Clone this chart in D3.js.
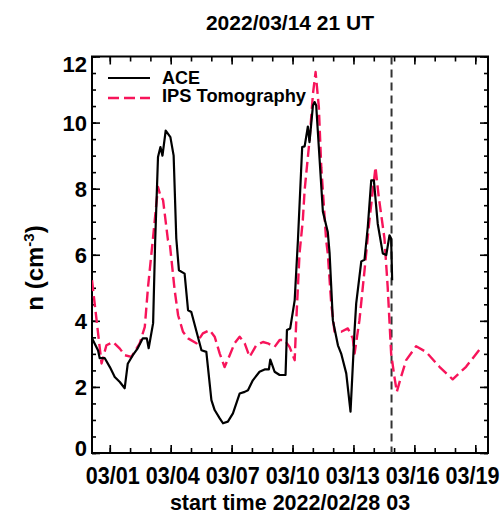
<!DOCTYPE html>
<html>
<head>
<meta charset="utf-8">
<script src="https://cdn.jsdelivr.net/npm/d3@7"></script>
<style>
  html, body { margin: 0; padding: 0; background: #fff; }
  svg text { font-family: "Liberation Sans", Arial, Helvetica, sans-serif; font-weight: bold; fill: #000; }
</style>
</head>
<body>
<svg id="chart" width="503" height="519"></svg>
<script>
// ---- data (day offsets from 2022/02/28 03 UT) ----
const startTime = Date.UTC(2022, 1, 28, 3);
const endTime = Date.UTC(2022, 2, 19, 15);
const markerTime = Date.UTC(2022, 2, 14, 21);

const aceDay = [0.00,0.30,0.38,0.63,0.88,1.12,1.37,1.61,1.76,2.01,2.25,2.50,2.70,2.79,3.01,3.11,3.25,3.37,3.47,3.63,3.86,4.02,4.15,4.28,4.56,4.73,4.89,5.39,5.63,5.88,6.04,6.29,6.45,6.69,6.94,7.27,7.52,7.68,7.92,8.25,8.50,8.71,8.78,8.99,9.24,9.53,9.60,9.76,9.98,10.14,10.35,10.47,10.63,10.71,10.88,10.96,11.04,11.37,11.61,11.70,11.86,12.11,12.27,12.52,12.73,12.93,13.01,13.26,13.42,13.58,13.75,13.88,14.07,14.32,14.49,14.65,14.73,14.78];
const aceN   = [3.47,3.10,2.87,2.87,2.60,2.30,2.15,1.96,2.70,2.96,3.17,3.47,3.47,3.17,3.93,6.40,8.96,9.26,9.00,9.76,9.56,9.00,6.50,5.53,5.43,4.32,4.27,3.11,3.06,1.60,1.30,1.05,0.90,0.95,1.20,1.80,1.85,1.90,2.20,2.46,2.53,2.53,2.83,2.46,2.36,2.36,3.72,3.77,4.62,6.44,9.26,9.28,9.88,9.41,10.52,10.62,10.52,7.30,6.69,6.04,4.02,3.26,3.01,2.41,1.25,3.72,4.53,5.80,5.85,6.84,8.25,8.25,6.94,6.04,5.99,6.59,6.49,5.23];

const ipsDay = [0.00,0.47,0.71,1.04,1.37,1.61,1.94,2.35,2.60,2.76,3.01,3.25,3.34,3.50,3.74,3.83,4.07,4.24,4.48,4.73,5.14,5.46,5.79,6.04,6.29,6.53,6.78,7.02,7.27,7.52,7.76,8.09,8.42,8.66,8.99,9.24,9.48,9.73,9.98,10.06,10.22,10.38,10.47,10.71,10.88,11.01,11.17,11.29,11.53,11.61,11.78,11.94,12.27,12.60,12.84,12.93,13.17,13.42,13.66,13.83,13.96,14.12,14.40,14.56,14.73,14.89,15.01,15.22,15.47,15.96,16.45,17.11,17.76,18.42,19.21];
const ipsN   = [5.23,2.71,3.26,3.36,3.16,2.96,2.91,3.32,3.82,5.03,6.54,8.05,7.85,7.65,6.44,6.34,4.93,4.17,3.67,3.47,3.32,3.62,3.72,3.52,3.01,2.60,2.96,3.32,3.52,3.32,2.91,3.26,3.36,3.32,3.21,3.42,3.42,3.21,2.81,4.02,6.04,7.04,7.95,9.46,10.87,11.53,10.47,8.65,6.44,6.04,4.53,3.67,3.67,3.77,3.47,3.01,4.02,5.53,7.04,7.95,8.65,7.75,6.50,5.03,3.01,2.31,1.85,2.31,2.81,3.23,3.06,2.61,2.23,2.61,3.23];

const xTickDays = d3.range(1, 20);           // 03/01 .. 03/19, daily ticks
const xLabelDays = [1, 4, 7, 10, 13, 16, 19];  // labelled ticks
const yMajor = [0, 2, 4, 6, 8, 10, 12];
const yMinor = d3.range(0, 12.01, 0.5);

const titleText = "2022/03/14 21 UT";
const xTitle = "start time 2022/02/28 03";
const seriesNames = ["ACE", "IPS Tomography"];

// ---- layout ----
const L = 92, R = 488, T = 56.5, B = 453;
const svg = d3.select("#chart");
const x = d3.scaleUtc().domain([new Date(startTime), new Date(endTime)]).range([L, R]);
const y = d3.scaleLinear().domain([0, 12]).range([B, T]);
const dayMs = 86400000;
const toDate = d => new Date(startTime + d * dayMs);
const tickDate = d => new Date(Date.UTC(2022, 2, d));
const fmt = d3.utcFormat("%m/%d");

svg.append("clipPath").attr("id", "clip").append("rect")
  .attr("x", L).attr("y", T).attr("width", R - L).attr("height", B - T);

const axisStyle = g => {
  g.select(".domain").remove();
  g.selectAll(".tick line").attr("stroke", "#000").attr("stroke-width", 1.6);
  g.selectAll(".tick text").style("font-size", "23px");
};

// x bottom
svg.append("g").attr("transform", `translate(0,${B})`)
  .call(d3.axisBottom(x).tickValues(xTickDays.map(tickDate)).tickSize(-5).tickFormat(""))
  .call(axisStyle);
const xb = svg.append("g").attr("transform", `translate(0,${B})`)
  .call(d3.axisBottom(x).tickValues(xLabelDays.map(tickDate)).tickSize(-8).tickPadding(15).tickFormat(fmt))
  .call(axisStyle);
xb.selectAll(".tick text").attr("dx", (d, i) => 2.5 - i * 0.95)
  .attr("textLength", 54).attr("lengthAdjust", "spacingAndGlyphs");
// x top
svg.append("g").attr("transform", `translate(0,${T})`)
  .call(d3.axisTop(x).tickValues(xTickDays.map(tickDate)).tickSize(-5).tickFormat(""))
  .call(axisStyle);
svg.append("g").attr("transform", `translate(0,${T})`)
  .call(d3.axisTop(x).tickValues(xLabelDays.map(tickDate)).tickSize(-8).tickFormat(""))
  .call(axisStyle);
// y left
svg.append("g").attr("transform", `translate(${L},0)`)
  .call(d3.axisLeft(y).tickValues(yMinor).tickSize(-4).tickFormat(""))
  .call(axisStyle);
const yl = svg.append("g").attr("transform", `translate(${L},0)`)
  .call(d3.axisLeft(y).tickValues(yMajor).tickSize(-8).tickPadding(5).tickFormat(d3.format("d")))
  .call(axisStyle);
yl.selectAll(".tick text").style("font-size", "22px")
  .attr("dy", d => d === 12 ? "0.70em" : d === 0 ? "0.10em" : "0.34em");
// y right
svg.append("g").attr("transform", `translate(${R},0)`)
  .call(d3.axisRight(y).tickValues(yMinor).tickSize(-4).tickFormat(""))
  .call(axisStyle);
svg.append("g").attr("transform", `translate(${R},0)`)
  .call(d3.axisRight(y).tickValues(yMajor).tickSize(-8).tickFormat(""))
  .call(axisStyle);

// frame
svg.append("rect").attr("x", L).attr("y", T).attr("width", R - L).attr("height", B - T)
  .attr("fill", "none").attr("stroke", "#000").attr("stroke-width", 2);

// marker line
svg.append("line")
  .attr("x1", x(new Date(markerTime))).attr("x2", x(new Date(markerTime)))
  .attr("y1", T).attr("y2", B)
  .attr("stroke", "#333").attr("stroke-width", 2).attr("stroke-dasharray", "8,5");

// series
const line = d3.line().x(d => x(d[0])).y(d => y(d[1]));
const ipsData = ipsDay.map((d, i) => [toDate(d), ipsN[i]]);
const aceData = aceDay.map((d, i) => [toDate(d), aceN[i]]);
const plot = svg.append("g").attr("clip-path", "url(#clip)");
plot.append("path").datum(ipsData).attr("d", line)
  .attr("fill", "none").attr("stroke", "#f7145a").attr("stroke-width", 2.4)
  .attr("stroke-dasharray", "11,5").attr("stroke-linejoin", "round");
plot.append("path").datum(aceData).attr("d", line)
  .attr("fill", "none").attr("stroke", "#000").attr("stroke-width", 2.2)
  .attr("stroke-linejoin", "round");

// legend
const lg = svg.append("g");
lg.append("line").attr("x1", 108).attr("x2", 150).attr("y1", 78).attr("y2", 78)
  .attr("stroke", "#000").attr("stroke-width", 2.2);
lg.append("text").attr("x", 162).attr("y", 83.5).style("font-size", "19px")
  .attr("textLength", 38).attr("lengthAdjust", "spacingAndGlyphs").text(seriesNames[0]);
lg.append("line").attr("x1", 108).attr("x2", 150).attr("y1", 98).attr("y2", 98)
  .attr("stroke", "#f7145a").attr("stroke-width", 2.4).attr("stroke-dasharray", "11,5");
lg.append("text").attr("x", 162).attr("y", 101.5).style("font-size", "19px")
  .attr("textLength", 144).attr("lengthAdjust", "spacingAndGlyphs").text(seriesNames[1]);

// titles
svg.append("text").attr("x", 290).attr("y", 30).attr("text-anchor", "middle")
  .style("font-size", "21px").text(titleText);
svg.append("text").attr("x", 290).attr("y", 510).attr("text-anchor", "middle")
  .style("font-size", "21.5px").text(xTitle);
const yt = svg.append("text").attr("transform", "translate(43,268) rotate(-90)")
  .attr("text-anchor", "middle").style("font-size", "24px");
yt.append("tspan").text("n (cm");
yt.append("tspan").attr("dy", -9).style("font-size", "15px").text("-3");
yt.append("tspan").attr("dy", 9).text(")");
</script>
</body>
</html>
